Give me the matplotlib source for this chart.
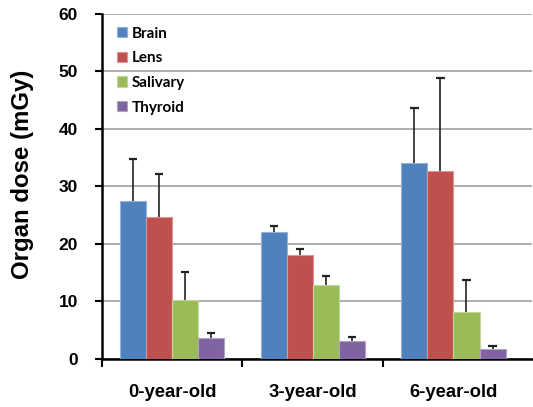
# Organ dose by age group, grouped bar chart with upper error bars
import numpy as np
import matplotlib.pyplot as plt

# Data
groups = ['0-year-old', '3-year-old', '6-year-old']
organs = ['Brain', 'Lens', 'Salivary', 'Thyroid']
brain = [27.4, 22.1, 34.1]
brain_err = [7.4, 1.0, 9.5]
lens = [24.6, 18.0, 32.6]
lens_err = [7.6, 1.1, 16.3]
salivary = [10.3, 12.8, 8.2]
salivary_err = [4.9, 1.7, 5.6]
thyroid = [3.7, 3.1, 1.7]
thyroid_err = [0.9, 0.8, 0.6]

values = [brain, lens, salivary, thyroid]
errors = [brain_err, lens_err, salivary_err, thyroid_err]
colors = ['#4F81BD', '#C0504D', '#9BBB59', '#8064A2']
edges = ['#95B3D7', '#D99694', '#C3D69B', '#B3A2C7']

fig = plt.figure(figsize=(5.33, 4.07), dpi=100)
ax = fig.add_axes([0.1908, 0.118, 0.8073, 0.848])

x = np.arange(len(groups))
width = 0.185
cap = 0.029
for i in range(len(organs)):
	pos = x + (i - 1.5) * width
	tops = np.array(values[i]) + np.array(errors[i])
	ax.bar(pos, values[i], width, color=colors[i], edgecolor=edges[i], linewidth=0.8,
		label=organs[i], zorder=3)
	# upper error bar only, one cap on top
	ax.vlines(pos, values[i], tops, color='#222222', linewidth=1.2, zorder=4)
	ax.hlines(tops, pos - cap, pos + cap, color='#222222', linewidth=1.6, zorder=4)

ax.set_ylim(0, 60)
ax.set_xlim(-0.5, 2.558)
ax.set_yticks(np.arange(0, 61, 10))
ax.yaxis.grid(True, color='#A0A0A0', linewidth=1.2, zorder=0)
ax.set_axisbelow(True)

# category labels at centres, tick marks at the boundaries
ax.set_xticks(x)
ax.set_xticklabels(groups, fontweight='bold', fontsize=13.3, family='Liberation Sans')
ax.tick_params(axis='x', which='major', length=0, pad=18)
ax.set_xticks([-0.5, 0.5, 1.5], minor=True)
ax.tick_params(axis='x', which='minor', length=6, width=1.5, direction='out')
ax.tick_params(axis='y', length=5, width=1.5, direction='out', pad=12)
for lbl in ax.get_yticklabels():
	lbl.set_fontweight('bold')
	lbl.set_fontsize(12.5)
	lbl.set_family('Liberation Sans')

ax.set_ylabel('Organ dose (mGy)', fontsize=17.3, fontweight='bold', family='Liberation Sans')
ax.yaxis.set_label_coords(-0.157, 0.536)

for side in ['top', 'right']:
	ax.spines[side].set_visible(False)
for side in ['left', 'bottom']:
	ax.spines[side].set_linewidth(1.8)

leg = ax.legend(loc='upper left', frameon=False, handlelength=0.65, handleheight=0.65,
	handletextpad=0.3, labelspacing=0.7, borderaxespad=0, borderpad=0,
	bbox_to_anchor=(117 / 533, 1 - 26.5 / 407), bbox_transform=fig.transFigure,
	prop={'family': 'Lato', 'weight': 'bold', 'size': 11})

fig.savefig('out.png', dpi=100)
